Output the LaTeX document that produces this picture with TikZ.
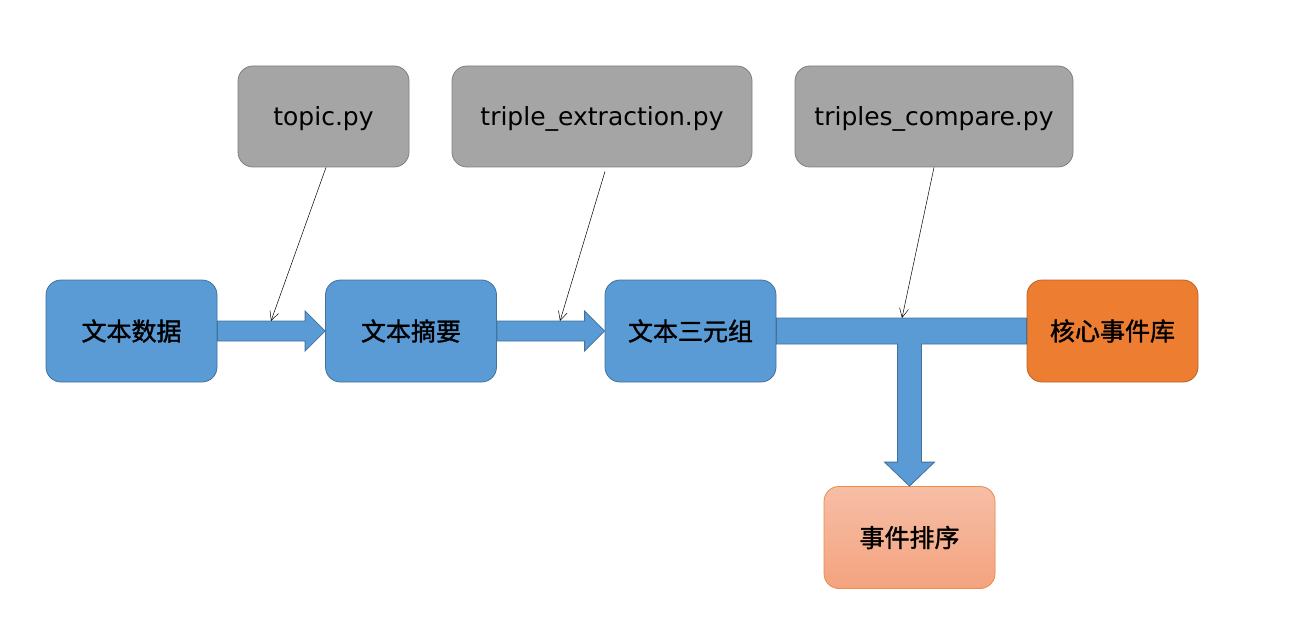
\documentclass[tikz,border=0pt]{standalone}
\usepackage{fontspec}
\setmainfont{DejaVu Sans}
\newfontfamily\cjk[FakeBold=1.4]{Noto Sans CJK SC}
\usetikzlibrary{arrows.meta,calc}
\definecolor{boxblue}{HTML}{5B9BD5}
\definecolor{lineblue}{HTML}{41719C}
\definecolor{boxgray}{HTML}{A5A5A5}
\definecolor{linegray}{HTML}{7F7F7F}
\definecolor{boxorange}{HTML}{ED7D31}
\definecolor{lineorange}{HTML}{B9622A}
\definecolor{salmontop}{HTML}{F6BEA6}
\definecolor{salmonbot}{HTML}{F4A37F}
\definecolor{salmonline}{HTML}{F08C45}
\begin{document}
\begin{tikzpicture}[x=1pt, y=-1pt,
    stepbox/.style={draw=lineblue, fill=boxblue, rounded corners=15pt, minimum width=171pt, minimum height=102pt, font=\cjk\fontsize{25}{28}\selectfont, line width=0.8pt},
    pybox/.style={draw=linegray, fill=boxgray, rounded corners=15pt, minimum height=101pt, text depth=0pt, font=\fontsize{25}{28}\selectfont, line width=0.8pt},
    bigarrow/.style={fill=boxblue, draw=lineblue, line width=0.8pt},
    thin/.style={-{Straight Barb[length=9pt,width=9pt]}, line width=0.5pt}]
    \useasboundingbox (0,0) rectangle (1297,639);
    % pipeline
    \node[stepbox] (data) at (131.5,331) {文本数据};
    \node[stepbox] (summary) at (411,331) {文本摘要};
    \node[stepbox] (triple) at (690.5,331) {文本三元组};
    \node[stepbox, fill=boxorange, draw=lineorange] (core) at (1112.5,331) {核心事件库};
    \node[stepbox, top color=salmontop, bottom color=salmonbot, draw=salmonline] (sort) at (909.5,537.5) {事件排序};
    % scripts
    \node[pybox, minimum width=171pt] (topic) at (323.5,116.5) {topic.py};
    \node[pybox, minimum width=300pt] (extract) at (602,116.5) {triple\_extraction.py};
    \node[pybox, minimum width=278pt] (compare) at (934,116.5) {triples\_compare.py};
    % block arrows
    \draw[bigarrow] ([yshift=10pt]data.east) -- ([xshift=-20pt,yshift=10pt]summary.west) -- ([xshift=-20pt,yshift=20pt]summary.west) -- (summary.west) -- ([xshift=-20pt,yshift=-20pt]summary.west) -- ([xshift=-20pt,yshift=-10pt]summary.west) -- ([yshift=-10pt]data.east) -- cycle;
    \draw[bigarrow] ([yshift=10pt]summary.east) -- ([xshift=-20pt,yshift=10pt]triple.west) -- ([xshift=-20pt,yshift=20pt]triple.west) -- (triple.west) -- ([xshift=-20pt,yshift=-20pt]triple.west) -- ([xshift=-20pt,yshift=-10pt]triple.west) -- ([yshift=-10pt]summary.east) -- cycle;
    \draw[bigarrow] ([yshift=13pt]triple.east) -- ([yshift=13pt]core.west) -- ([yshift=-13pt]core.west) -- ([xshift=12pt,yshift=-13pt]sort.north |- triple.east) -- ([xshift=12pt,yshift=24pt]sort.north) -- ([xshift=25pt,yshift=24pt]sort.north) -- (sort.north) -- ([xshift=-25pt,yshift=24pt]sort.north) -- ([xshift=-12pt,yshift=24pt]sort.north) -- ([xshift=-12pt,yshift=-13pt]sort.north |- triple.east) -- ([yshift=-13pt]triple.east) -- cycle;
    % script arrows
    \coordinate (in1) at (271,321);
    \coordinate (in2) at (560,321);
    \coordinate (in3) at (902,318);
    \draw[thin] ([xshift=2.5pt]topic.south) -- (in1);
    \draw[thin] ([xshift=3pt,yshift=-4pt]extract.south) -- (in2);
    \draw[thin] (compare.south) -- (in3);
\end{tikzpicture}
\end{document}
